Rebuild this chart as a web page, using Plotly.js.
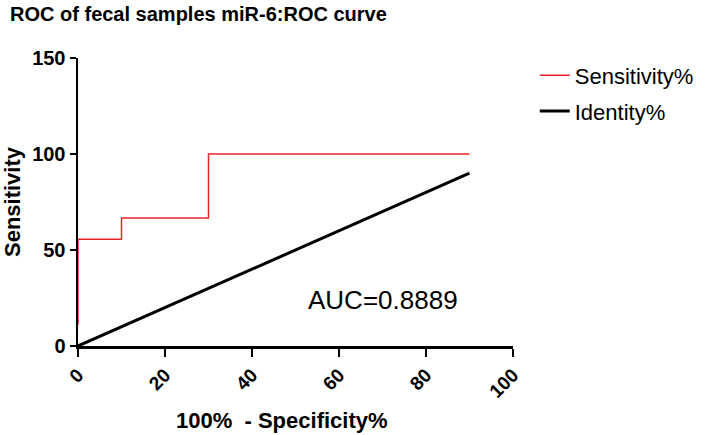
<!DOCTYPE html>
<html>
<head>
<meta charset="utf-8">
<script src="https://cdn.plot.ly/plotly-3.0.1.min.js"></script>
<style>html,body{margin:0;padding:0;background:#fff;}#chart{width:717px;height:435px;}</style>
</head>
<body>
<div id="chart"></div>
<script>
// ROC curve points (100% - Specificity%, Sensitivity%)
const rocX = [0, 0, 0, 0, 0, 10, 10, 30, 30, 90];
const rocY = [11.11, 22.22, 33.33, 44.44, 55.56, 55.56, 66.67, 66.67, 100, 100];
// Identity line
const idX = [0, 90];
const idY = [0, 90];
const xTicks = [0, 20, 40, 60, 80, 100];
const yTicks = [0, 50, 100, 150];
const aucText = "AUC=0.8889";
const xTitle = "100%  - Specificity%";
const yTitle = "Sensitivity";

const FONT = "Liberation Sans, Arial, sans-serif";

const traces = [
  {
    x: rocX, y: rocY, type: "scatter", mode: "lines", name: "Sensitivity%",
    line: {color: "#e8262a", width: 1.5, shape: "linear"},
    cliponaxis: false, legendgroup: "a"
  },
  {
    x: idX, y: idY, type: "scatter", mode: "lines", name: "Identity%",
    line: {color: "#000000", width: 3},
    cliponaxis: false, legendgroup: "b"
  }
];

const layout = {
  width: 717, height: 435,
  margin: {l: 78, r: 204, t: 58, b: 89, autoexpand: false},
  paper_bgcolor: "#ffffff", plot_bgcolor: "#ffffff",
  font: {family: FONT, color: "#000"},
  title: {
    text: "<b>ROC of fecal samples miR-6:ROC curve</b>",
    font: {family: FONT, size: 20, color: "#000"},
    x: 0.014, xanchor: "left", xref: "container",
    y: 0.968, yanchor: "middle", yref: "container"
  },
  xaxis: {
    range: [0, 100], tickvals: xTicks, ticktext: xTicks.map(String),
    showgrid: false, zeroline: false,
    showline: true, linecolor: "#000", linewidth: 2.5,
    ticks: "outside", ticklen: 8, tickwidth: 2.5, tickcolor: "#000",
    tickangle: -45,
    tickfont: {family: FONT, size: 19, color: "#000", weight: "bold"}
  },
  yaxis: {
    range: [0, 150], tickvals: yTicks, ticktext: yTicks.map(String),
    showgrid: false, zeroline: false,
    showline: true, linecolor: "#000", linewidth: 2.5,
    ticks: "outside", ticklen: 6, tickwidth: 2.5, tickcolor: "#000",
    tickfont: {family: FONT, size: 20, color: "#000", weight: "bold"},
    title: {text: "<b>" + yTitle + "</b>", font: {family: FONT, size: 22, color: "#000"}, standoff: 6}
  },
  showlegend: true,
  legend: {
    x: 1.05, xanchor: "left", y: 1.012, yanchor: "top",
    font: {family: FONT, size: 22, color: "#000"},
    bgcolor: "rgba(0,0,0,0)", tracegroupgap: 4
  },
  annotations: [
    {
      x: 70, y: 24, xref: "x", yref: "y", text: aucText, showarrow: false,
      font: {family: FONT, size: 26, color: "#000"}, xanchor: "center", yanchor: "middle"
    },
    {
      x: 0.469, y: -0.26, xref: "paper", yref: "paper", text: "<b>" + xTitle + "</b>",
      showarrow: false, font: {family: FONT, size: 22, color: "#000"},
      xanchor: "center", yanchor: "middle"
    }
  ]
};

Plotly.newPlot("chart", traces, layout, {staticPlot: true, displayModeBar: false});
</script>
</body>
</html>
